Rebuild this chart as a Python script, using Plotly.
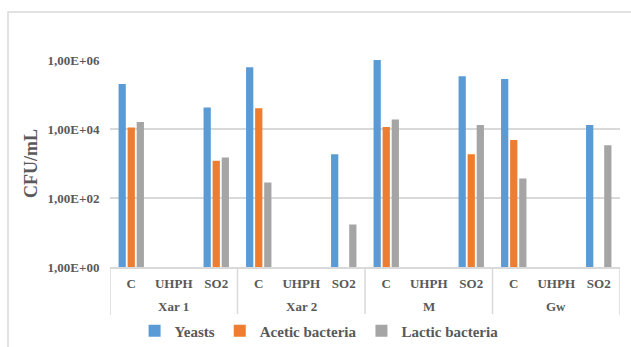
import plotly.graph_objects as go

group_names = ["Xar 1", "Xar 2", "M", "Gw"]
treatment_names = ["C", "UHPH", "SO2"]

groups = [g for g in group_names for _ in treatment_names]
treatments = treatment_names * len(group_names)

yeasts = [2.0e5, None, 4.2e4, 6.2e5, None, 1.85e3,
          1.0e6, None, 3.4e5, 2.8e5, None, 1.3e4]
acetic = [1.1e4, None, 1.2e3, 4.0e4, None, None,
          1.15e4, None, 1.85e3, 4.8e3, None, None]
lactic = [1.6e4, None, 1.5e3, 280, None, 17,
          1.9e4, None, 1.3e4, 370, None, 3.4e3]

tick_vals = [1, 1e2, 1e4, 1e6]
tick_text = ["1,00E+00", "1,00E+02", "1,00E+04", "1,00E+06"]

series = [("Yeasts", yeasts, "#5B9BD5"),
          ("Acetic bacteria", acetic, "#ED7D31"),
          ("Lactic bacteria", lactic, "#A5A5A5")]

FONT = "Liberation Serif"
GREY = "#595959"
LINE = "#D9D9D9"

xpos = list(range(len(treatments)))
n_sub = len(treatment_names)

fig = go.Figure()
for name, vals, col in series:
    fig.add_trace(go.Bar(x=xpos, y=vals, name=name,
                         customdata=groups,
                         marker=dict(color=col, line=dict(width=0))))

# group labels and dividers of the two-level category axis
annotations = []
shapes = [dict(type="rect", xref="paper", yref="paper",
               x0=-0.2, x1=1.04, y0=-0.6, y1=1.232,
               line=dict(color=LINE, width=1.5), layer="below")]
for gi, g in enumerate(group_names):
    center = gi * n_sub + (n_sub - 1) / 2
    annotations.append(dict(x=center, xref="x", y=-0.193, yref="paper",
                            text=g, showarrow=False, yanchor="middle",
                            font=dict(family=FONT, size=13, color=GREY, weight="bold")))
for b in range(len(group_names) + 1):
    xb = b * n_sub - 0.5
    shapes.append(dict(type="line", xref="x", yref="paper",
                       x0=xb, x1=xb, y0=0, y1=-0.232,
                       line=dict(color=LINE, width=1.5)))

fig.update_layout(
    width=631, height=347,
    margin=dict(l=110, r=11, t=60, b=80, autoexpand=False),
    paper_bgcolor="white", plot_bgcolor="white",
    barmode="group", bargap=0.36, bargroupgap=0.2,
    font=dict(family=FONT, color=GREY, size=13, weight="bold"),
    showlegend=True,
    legend=dict(orientation="h", x=0.41, xanchor="center", y=-0.309, yanchor="middle",
                font=dict(family=FONT, size=15, color=GREY, weight="bold"),
                itemwidth=30, traceorder="normal"),
    annotations=annotations,
    shapes=shapes,
)

fig.update_yaxes(type="log", range=[0, 6], tickvals=tick_vals, ticktext=tick_text,
                 automargin=False,
                 showgrid=True, gridcolor=LINE, gridwidth=1.5,
                 ticks="outside", ticklen=7, tickcolor="rgba(0,0,0,0)",
                 zeroline=False, showline=False,
                 tickfont=dict(family=FONT, size=13, color=GREY, weight="bold"),
                 title=dict(text="CFU/mL", standoff=5,
                            font=dict(family=FONT, size=18, color=GREY, weight="bold")))

fig.update_xaxes(range=[-0.5, len(xpos) - 0.5],
                 tickmode="array", tickvals=xpos, ticktext=treatments,
                 showline=True, linecolor=LINE, linewidth=1.5,
                 automargin=False, zeroline=False,
                 ticks="outside", ticklen=4, tickcolor="rgba(0,0,0,0)",
                 tickangle=0,
                 tickfont=dict(family=FONT, size=13, color=GREY, weight="bold"),
                 showgrid=False)

fig.write_html("out.html", config={"displayModeBar": False},
               post_script="document.body.style.margin='0';")
